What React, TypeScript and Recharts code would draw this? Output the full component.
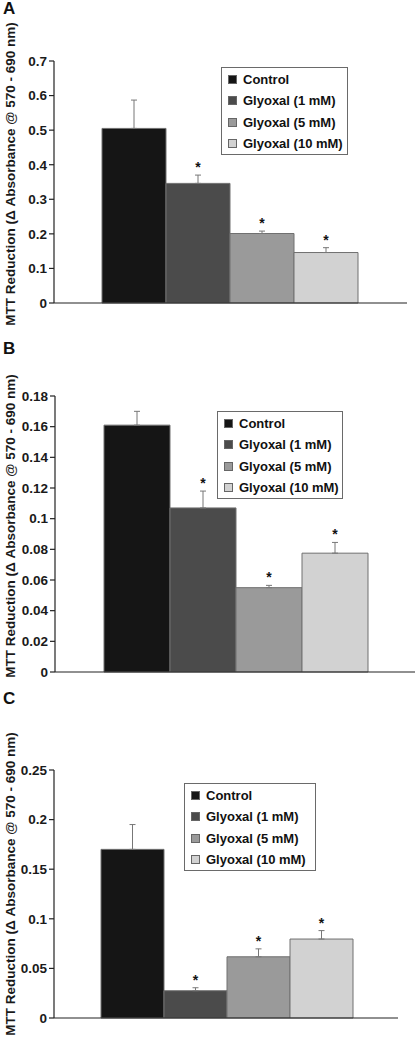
import React from 'react';
import { BarChart, Bar, XAxis, YAxis, ErrorBar, LabelList, Legend } from 'recharts';

const FONT = '"Liberation Sans", Arial, Helvetica, sans-serif';

const seriesNames = ['Control', 'Glyoxal (1 mM)', 'Glyoxal (5 mM)', 'Glyoxal (10 mM)'];
const seriesColors = ['#151515', '#4b4b4b', '#9a9a9a', '#d2d2d2'];
const yTitle = 'MTT Reduction (\u0394 Absorbance @ 570 - 690 nm)';

// panel A
const meansA = [0.505, 0.346, 0.201, 0.146];
const errorsA = [0.082, 0.024, 0.007, 0.014];
const starsA = [false, true, true, true];
const ticksA = [0, 0.1, 0.2, 0.3, 0.4, 0.5, 0.6, 0.7];

// panel B
const meansB = [0.161, 0.107, 0.055, 0.0775];
const errorsB = [0.009, 0.011, 0.0015, 0.007];
const starsB = [false, true, true, true];
const ticksB = [0, 0.02, 0.04, 0.06, 0.08, 0.1, 0.12, 0.14, 0.16, 0.18];

// panel C
const meansC = [0.17, 0.0275, 0.0617, 0.0796];
const errorsC = [0.025, 0.003, 0.008, 0.0085];
const starsC = [false, true, true, true];
const ticksC = [0, 0.05, 0.1, 0.15, 0.2, 0.25];

const starLabel = (err: number) => (p: any) => {
  const vb = p.viewBox ?? p;
  const x = Number(vb.x ?? p.x);
  const y = Number(vb.y ?? p.y);
  const w = Number(vb.width ?? p.width);
  const h = Number(vb.height ?? p.height);
  const v = Number(p.value);
  if (!v || isNaN(y)) return null;
  const errTop = y - (h / v) * err;
  return (
    <text x={x + w / 2} y={errTop - 3} textAnchor="middle" fontSize={14} fontWeight="bold" fill="#111" fontFamily={FONT}>
      *
    </text>
  );
};

const legendBox = (width: number) => (props: any) => {
  // keep the series order, not the legend's alphabetical one
  const payload = [...(props.payload || [])].sort(
    (a: any, b: any) => seriesNames.indexOf(a.value) - seriesNames.indexOf(b.value)
  );
  return (
    <div
      style={{
        width,
        height: 88,
        boxSizing: 'border-box',
        border: '1px solid #6a6a6a',
        background: '#fff',
        padding: '0.5px 0 0 6px',
        fontFamily: FONT,
        fontWeight: 'bold',
        fontSize: 13,
        color: '#111',
        textAlign: 'left',
      }}
    >
      {payload.map((entry: any) => (
        <div key={entry.value} style={{ display: 'flex', alignItems: 'center', height: 21.5, whiteSpace: 'nowrap' }}>
          <span
            style={{
              display: 'inline-block',
              width: 9,
              height: 9,
              boxSizing: 'border-box',
              background: seriesColors[seriesNames.indexOf(entry.value)],
              border: '1px solid #666',
              marginRight: 6,
            }}
          />
          {entry.value}
        </div>
      ))}
    </div>
  );
};

interface PanelProps {
  letter: string;
  top: number;
  height: number;
  means: number[];
  errors: number[];
  stars: boolean[];
  ticks: number[];
  margin: { top: number; right: number; bottom: number; left: number };
  axisWidth: number;
  gap: number;
  legendLeft: number;
  legendTop: number;
  legendWidth: number;
  titleShift: number;
}

function Panel(props: PanelProps) {
  const { letter, top, height, means, errors, stars, ticks, margin, axisWidth, gap } = props;
  const row: any = { name: '' };
  means.forEach((m, i) => {
    row[`s${i}`] = m;
    row[`e${i}`] = [0, errors[i]];
  });
  const data = [row];

  return (
    <div style={{ position: 'absolute', left: 0, top, width: 415, height }}>
      <div
        style={{
          position: 'absolute',
          left: 3,
          top: 0,
          fontFamily: FONT,
          fontWeight: 'bold',
          fontSize: 17,
          lineHeight: 1,
          color: '#111',
        }}
      >
        {letter}
      </div>
      <BarChart width={415} height={height} data={data} margin={margin} barCategoryGap={gap} barGap={0}>
        <XAxis dataKey="name" tick={false} tickLine={false} height={1} axisLine={{ stroke: '#222', strokeWidth: 1.2 }} />
        <YAxis
          width={axisWidth}
          domain={[0, ticks[ticks.length - 1]]}
          ticks={ticks}
          interval={0}
          tickSize={5}
          tickMargin={2}
          axisLine={{ stroke: '#222', strokeWidth: 1.2 }}
          tickLine={{ stroke: '#222', strokeWidth: 1.2 }}
          tick={{ fontSize: 13.5, fontWeight: 'bold', fill: '#1a1a1a', fontFamily: FONT }}
          label={(lp: any) => {
            const vb = lp.viewBox || {};
            const cy = Number(vb.y) + Number(vb.height) / 2 + props.titleShift;
            return (
              <text
                x={14.5}
                y={cy}
                transform={`rotate(-90, 14.5, ${cy})`}
                textAnchor="middle"
                fontSize={13.5}
                fontWeight="bold"
                fill="#1a1a1a"
                fontFamily={FONT}
              >
                {yTitle}
              </text>
            );
          }}
        />
        <Legend
          layout="vertical"
          align="center"
          verticalAlign="middle"
          content={legendBox(props.legendWidth)}
          wrapperStyle={{ top: props.legendTop, left: props.legendLeft, width: props.legendWidth, height: 88 }}
        />
        {seriesNames.map((n, i) => (
          <Bar
            key={n}
            dataKey={`s${i}`}
            name={n}
            fill={seriesColors[i]}
            stroke="#707070"
            strokeWidth={1}
            isAnimationActive={false}
          >
            <ErrorBar dataKey={`e${i}`} width={3} stroke="#777" strokeWidth={1} direction="y" />
            {stars[i] && <LabelList dataKey={`s${i}`} content={starLabel(errors[i])} />}
          </Bar>
        ))}
      </BarChart>
    </div>
  );
}

export default function App() {
  return (
    <div style={{ position: 'absolute', left: 0, top: 0, width: 415, height: 1050, background: '#fff', overflow: 'hidden' }}>
      <Panel
        letter="A"
        top={0}
        height={340}
        means={meansA}
        errors={errorsA}
        stars={starsA}
        ticks={ticksA}
        margin={{ top: 61, right: 8, bottom: 36, left: 0 }}
        axisWidth={54}
        gap={48}
        legendLeft={221}
        legendTop={67}
        legendWidth={127}
        titleShift={-8}
      />
      <Panel
        letter="B"
        top={340}
        height={350}
        means={meansB}
        errors={errorsB}
        stars={starsB}
        ticks={ticksB}
        margin={{ top: 56, right: 0, bottom: 17, left: 0 }}
        axisWidth={55}
        gap={49}
        legendLeft={217}
        legendTop={71}
        legendWidth={126}
        titleShift={-8}
      />
      <Panel
        letter="C"
        top={690}
        height={360}
        means={meansC}
        errors={errorsC}
        stars={starsC}
        ticks={ticksC}
        margin={{ top: 80, right: 17, bottom: 31, left: 0 }}
        axisWidth={54}
        gap={47}
        legendLeft={184}
        legendTop={93}
        legendWidth={132}
        titleShift={-10}
      />
    </div>
  );
}
